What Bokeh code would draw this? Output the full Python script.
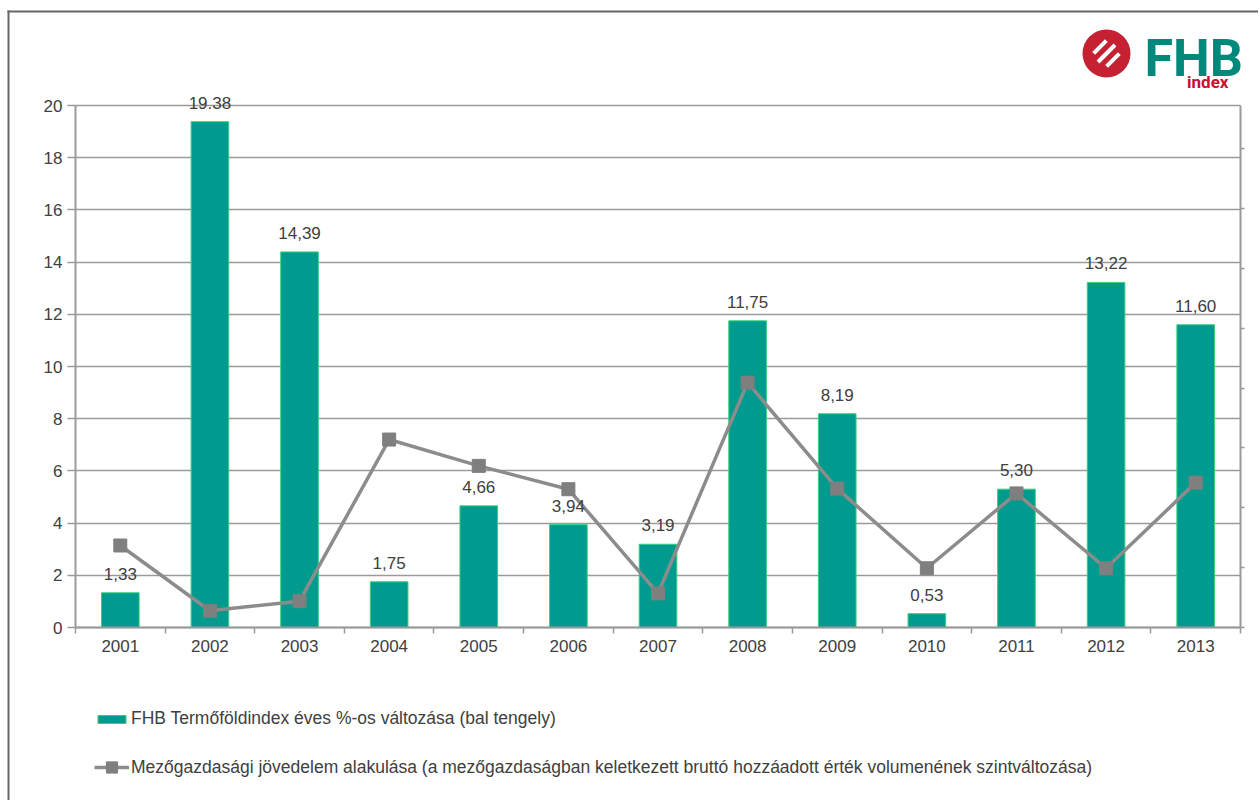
from bokeh.plotting import figure
from bokeh.models import (Range1d, LinearAxis, FixedTicker, Legend, LegendItem,
                          LabelSet, ColumnDataSource, BoxAnnotation, Arrow, Label, Grid)
from bokeh.core.properties import value
from bokeh.embed import file_html
from bokeh.resources import INLINE

years = ["2001", "2002", "2003", "2004", "2005", "2006", "2007",
         "2008", "2009", "2010", "2011", "2012", "2013"]
land_index = [1.33, 19.38, 14.39, 1.75, 4.66, 3.94, 3.19, 11.75, 8.19, 0.53, 5.30, 13.22, 11.60]
land_labels = ["1,33", "19.38", "14,39", "1,75", "4,66", "3,94", "3,19",
               "11,75", "8,19", "0,53", "5,30", "13,22", "11,60"]
# secondary (right, unlabeled) axis values
agri_income = [1.37, 0.28, 0.44, 3.14, 2.70, 2.31, 0.57, 4.09, 2.32, 0.99, 2.24, 0.99, 2.42]
left_ticks = [0, 2, 4, 6, 8, 10, 12, 14, 16, 18, 20]
right_ticks = [0, 1, 2, 3, 4, 5, 6, 7, 8]
LEFT_MAX = 20
RIGHT_MAX = 8.72
legend_bar = "FHB Termőföldindex éves %-os változása (bal tengely)"
legend_line = ("Mezőgazdasági jövedelem alakulása (a mezőgazdaságban keletkezett "
               "bruttó hozzáadott érték volumenének szintváltozása)")

FONT = "Liberation Sans"
TXT = "#404040"
GRID = "#9a9a9a"

W, H = 1258, 800
# plot area in canvas pixels
PL, PR, PT, PB = 75, 1240, 105, 627

n = len(years)
xs = list(range(1, n + 1))
x0, x1 = 0.5, n + 0.5
sx = (PR - PL) / (x1 - x0)
sy = (PB - PT) / LEFT_MAX
sr = (PB - PT) / RIGHT_MAX

src = ColumnDataSource(dict(x=xs, land=land_index, lab=land_labels, agri=agri_income))

p = figure(width=W, height=H, output_backend="svg", toolbar_location=None,
           x_axis_location=None, y_axis_location=None,
           x_range=Range1d(x0 - PL / sx, x1 + (W - PR) / sx),
           y_range=Range1d(-(H - PB) / sy, LEFT_MAX + PT / sy),
           min_border=0)
p.outline_line_color = None
p.grid.visible = False
p.extra_y_ranges = {"r": Range1d(-(H - PB) / sr, RIGHT_MAX + PT / sr)}

# horizontal gridlines
g = Grid(dimension=1, ticker=FixedTicker(ticks=left_ticks), cross_bounds=(x0, x1),
         grid_line_color=GRID, grid_line_width=1.5)
p.add_layout(g)

# x axis
xa = LinearAxis(fixed_location=0, bounds=(x0, x1),
                ticker=FixedTicker(ticks=xs, minor_ticks=[i + 0.5 for i in range(n + 1)]))
xa.major_label_overrides = {i: y for i, y in zip(xs, years)}
xa.major_tick_line_color = None
xa.major_tick_out = 6
xa.major_tick_in = 0
xa.minor_tick_line_color = GRID
xa.minor_tick_line_width = 1.5
xa.minor_tick_out = 6
xa.minor_tick_in = 0
xa.major_label_standoff = 6
xa.axis_line_color = GRID
xa.axis_line_width = 2
xa.major_label_text_font = FONT
xa.major_label_text_font_size = "17px"
xa.major_label_text_color = TXT
p.add_layout(xa, "below")

# left axis
ya = LinearAxis(fixed_location=x0, bounds=(0, LEFT_MAX),
                ticker=FixedTicker(ticks=left_ticks, minor_ticks=[]))
ya.major_tick_out = 8
ya.major_tick_in = 0
ya.major_tick_line_color = GRID
ya.major_tick_line_width = 1.5
ya.minor_tick_line_color = None
ya.axis_line_color = GRID
ya.axis_line_width = 2
ya.major_label_standoff = 5
ya.major_label_text_font = FONT
ya.major_label_text_font_size = "17px"
ya.major_label_text_color = TXT
p.add_layout(ya, "left")

# right (secondary) axis, unlabeled
ra = LinearAxis(y_range_name="r", fixed_location=x1, bounds=(0, RIGHT_MAX),
                ticker=FixedTicker(ticks=right_ticks, minor_ticks=[]))
ra.major_label_text_font_size = "0px"
ra.major_label_text_color = None
ra.major_tick_out = 4
ra.major_tick_in = 0
ra.major_tick_line_color = GRID
ra.major_tick_line_width = 1.5
ra.minor_tick_line_color = None
ra.axis_line_color = GRID
ra.axis_line_width = 2
p.add_layout(ra, "right")

bars = p.vbar(x="x", top="land", width=0.42, source=src,
              fill_color="#009b8e", line_color="#3ad07a", line_width=1)
line = p.line(x="x", y="agri", source=src, y_range_name="r",
              line_color="#8c8c8c", line_width=3.5)
marks = p.scatter(x="x", y="agri", source=src, y_range_name="r", marker="square",
                  size=13, fill_color="#7f7f7f", line_color="#7f7f7f")

labels = LabelSet(x="x", y="land", text="lab", source=src, text_align="center",
                  text_baseline="bottom", y_offset=13, text_font=value(FONT),
                  text_font_size="17px", text_color=TXT)
p.add_layout(labels)

common = dict(orientation="vertical", glyph_width=35, label_height=20, padding=0,
              margin=0, label_standoff=2, label_text_font=FONT,
              label_text_font_size="17.5px", label_text_color=TXT,
              border_line_color=None, background_fill_alpha=0)
leg1 = Legend(items=[LegendItem(label=legend_bar, renderers=[bars])],
              location=(94, H - 729), glyph_height=10, **common)
leg2 = Legend(items=[LegendItem(label=legend_line, renderers=[line, marks])],
              location=(94, H - 781), glyph_height=28, **common)
p.add_layout(leg1)
p.add_layout(leg2)

def box(l, r, b, t, **kw):
    return BoxAnnotation(left=l, right=r, bottom=b, top=t,
                         left_units="screen", right_units="screen",
                         bottom_units="screen", top_units="screen", **kw)

# outer chart-area border (left and top edges)
p.add_layout(box(7, 9, -10, H - 10, fill_color="#666666", fill_alpha=1, line_color=None))
p.add_layout(box(7, W + 10, H - 12, H - 10, fill_color="#666666", fill_alpha=1, line_color=None))

# logo
cx, cy = 1106, H - 53
p.add_layout(box(cx - 24, cx + 24, cy - 24, cy + 24, border_radius=24,
                 fill_color="#c62033", fill_alpha=1, line_color=None))
for k, h in [(-1, 9), (0, 12), (1, 9)]:
    ox, oy = k * 6.5, -k * 6.5
    p.add_layout(Arrow(x_start=cx + ox - h * 0.707, y_start=cy + oy - h * 0.707,
                       x_end=cx + ox + h * 0.707, y_end=cy + oy + h * 0.707,
                       start_units="screen", end_units="screen", end=None,
                       line_color="white", line_width=4))
p.add_layout(Label(x=1144, y=H - 58, x_units="screen", y_units="screen", text="FHB",
                   text_font="Roboto", text_font_style="bold", text_font_size="52px",
                   text_color="#00887a", text_baseline="alphabetic"))
p.add_layout(Label(x=1228, y=H - 81, x_units="screen", y_units="screen", text="index",
                   text_font="Roboto", text_font_style="bold", text_font_size="17px",
                   text_color="#c8102e", text_baseline="alphabetic", text_align="right"))

open("out.html", "w").write(file_html(p, INLINE))
